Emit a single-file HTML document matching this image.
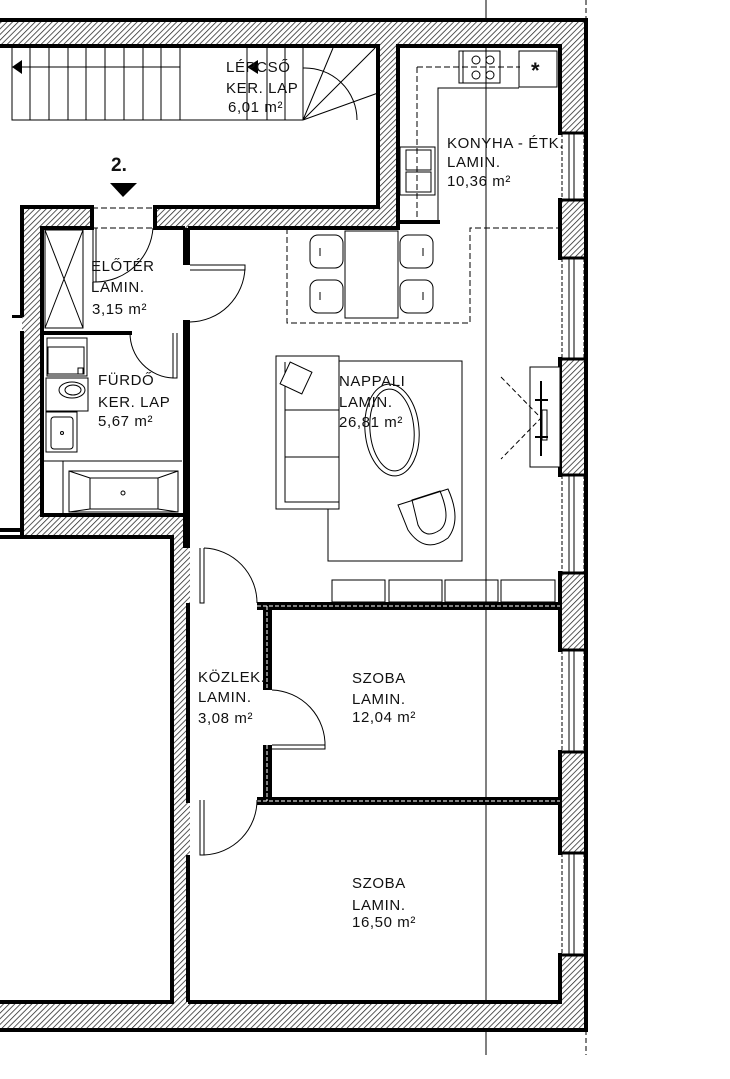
<!DOCTYPE html>
<html><head><meta charset="utf-8"><style>
html,body{margin:0;padding:0;background:#fff;}
svg{display:block;}
text{font-family:"Liberation Sans",sans-serif;font-size:15px;letter-spacing:0.6px;fill:#111;}
</style></head><body>
<svg width="730" height="1079" viewBox="0 0 730 1079" xmlns="http://www.w3.org/2000/svg">
<defs>
<pattern id="h" patternUnits="userSpaceOnUse" width="4" height="4" patternTransform="rotate(45)">
<rect width="4" height="4" fill="#fff"/>
<line x1="0" y1="0" x2="0" y2="4" stroke="#222" stroke-width="1.5"/>
</pattern>
</defs>
<rect width="730" height="1079" fill="#fff"/>

<line x1="486" y1="0" x2="486" y2="1055" stroke="#000" stroke-width="1"/>
<line x1="586" y1="0" x2="586" y2="20" stroke="#000" stroke-width="1" stroke-dasharray="5,3"/>
<line x1="586" y1="1030" x2="586" y2="1055" stroke="#000" stroke-width="1" stroke-dasharray="5,3"/>

<g fill="url(#h)">
<rect x="0" y="20" width="586" height="27"/>
<rect x="560" y="20" width="26" height="1010"/>
<rect x="0" y="1002" width="586" height="28"/>
<rect x="378" y="46" width="20" height="182"/>
<rect x="155" y="207" width="243" height="21"/>
<rect x="22" y="207" width="70" height="21"/>
<rect x="22" y="207" width="20" height="328"/>
<rect x="22" y="515" width="168" height="20"/>
<rect x="172" y="515" width="18" height="487"/>
</g>

<g>
<rect x="560" y="133" width="26" height="67" fill="#fff"/>
<rect x="560" y="258" width="26" height="101" fill="#fff"/>
<rect x="560" y="475" width="26" height="98" fill="#fff"/>
<rect x="560" y="650" width="26" height="102" fill="#fff"/>
<rect x="560" y="853" width="26" height="102" fill="#fff"/>
</g>
<g stroke="#000" stroke-width="1" fill="none">
<path d="M569 133V200M574 133V200M569 258V359M574 258V359M569 475V573M574 475V573M569 650V752M574 650V752M569 853V955M574 853V955"/>
<path d="M562 133V200M584 133V200M562 258V359M584 258V359M562 475V573M584 475V573M562 650V752M584 650V752M562 853V955M584 853V955" stroke-dasharray="4,2"/>
</g>

<g stroke="#000" stroke-width="4" fill="none" stroke-linecap="square">
<path d="M0 20H586V1030H0"/>
<path d="M0 46H378V207H155V228"/>
<path d="M155 228H183"/>
<path d="M190 228H398V46H560V133M560 200V258M560 359V475M560 573V650M560 752V853M560 955V1002H190"/>
<path d="M398 222H438"/>
<path d="M22 207H92V228"/>
<path d="M22 207V315M22 333V537"/>
<path d="M0 530H22"/>
<path d="M0 537H172V1002H0"/>
<path d="M42 228H92M42 228V515H183"/>
<path d="M42 333H130"/>
<path d="M586 133V200M586 258V359M586 475V573M586 650V752M586 853V955" stroke-width="3"/>
</g>
<path d="M560 133H586M560 200H586M560 258H586M560 359H586M560 475H586M560 573H586M560 650H586M560 752H586M560 853H586M560 955H586" stroke="#000" stroke-width="3"/>

<g fill="#000">
<rect x="183" y="228" width="7" height="37"/>
<rect x="183" y="320" width="7" height="228"/>
<rect x="186" y="603" width="4" height="200"/>
<rect x="186" y="855" width="4" height="147"/>
<rect x="257" y="602" width="303" height="8"/>
<rect x="263" y="602" width="9" height="88"/>
<rect x="263" y="745" width="9" height="60"/>
<rect x="257" y="797" width="303" height="8"/>
<rect x="12" y="315" width="10" height="3"/>
</g>
<path d="M257 606H560M267 606V690M267 745V801M257 801H560" stroke="#fff" stroke-width="1" stroke-dasharray="4,2"/>

<path d="M92 208H155M92 228H155" stroke="#000" stroke-width="1" stroke-dasharray="6,3"/>
<text x="111" y="171" style="font-size:19px;font-weight:bold;letter-spacing:0">2.</text>
<polygon points="110,183 137,183 123,197" fill="#000"/>
<path d="M93 228V282M96 228V282M93 282H96" stroke="#000" stroke-width="1" fill="none"/>
<path d="M96 282A58 58 0 0 0 153 228" stroke="#000" stroke-width="1" fill="none"/>

<g stroke="#000" stroke-width="1" fill="none">
<rect x="45" y="230" width="38" height="98"/>
<path d="M45 230L83 328M83 230L45 328"/>
</g>
<g stroke="#000" stroke-width="1" fill="none">
<path d="M190 265H245V270H190"/>
<path d="M245 268A56 56 0 0 1 190 322"/>
</g>
<g stroke="#000" stroke-width="1" fill="none">
<path d="M173 333V378H177V333"/>
<path d="M130 333A45 45 0 0 0 173 378"/>
</g>

<g stroke="#000" stroke-width="1" fill="none">
<rect x="47" y="338" width="40" height="38"/>
<rect x="48" y="347" width="36" height="27"/>
<rect x="78" y="368" width="5" height="6"/>
<rect x="46" y="378" width="42" height="33"/>
<ellipse cx="72" cy="390" rx="13" ry="8"/>
<ellipse cx="73" cy="390" rx="8" ry="5"/>
<rect x="46" y="412" width="31" height="40"/>
<rect x="51" y="417" width="22" height="32" rx="3"/>
<circle cx="62" cy="433" r="1.5"/>
<path d="M42 461H182M63 461V515"/>
<rect x="69" y="471" width="109" height="41"/>
<path d="M69 471L90 478H158L178 471M69 512L90 509H158L178 512M90 478V509M158 478V509"/>
<circle cx="123" cy="493" r="2"/>
</g>

<g stroke="#000" stroke-width="1" fill="none">
<path d="M12 48V120H303M12 67H180"/>
<path d="M30 48V120M49 48V120M68 48V120M86 48V120M105 48V120M124 48V120M143 48V120M161 48V120M180 48V120M247 48V120M267 48V120M285 48V120M303 48V120"/>
<path d="M303 68A52 52 0 0 1 357 120"/>
<path d="M303 120L333 48M303 120L375 48M303 120L378 93"/>
</g>
<polygon points="12,67 22,60 22,74" fill="#000"/>
<polygon points="247,67 258,60 258,74" fill="#000"/>

<g stroke="#000" stroke-width="1" fill="none">
<path d="M438 222V88H519"/>
<rect x="459" y="51" width="41" height="32"/>
<path d="M463 51V83"/>
<circle cx="476" cy="60" r="4"/><circle cx="490" cy="60" r="4"/>
<circle cx="476" cy="75" r="4"/><circle cx="490" cy="75" r="4"/>
<rect x="519" y="51" width="38" height="36"/>
<rect x="400" y="147" width="35" height="48"/>
<rect x="406" y="150" width="25" height="20"/>
<rect x="406" y="172" width="25" height="20"/>
<path d="M417 67V220M417 67H520" stroke-dasharray="6,3"/>
</g>
<text x="531" y="78" style="font-size:22px;font-weight:bold;letter-spacing:0">*</text>

<g stroke="#000" stroke-width="1" fill="none">
<path d="M287 228V323H470V228H560" stroke-dasharray="6,3"/>
<rect x="345" y="231" width="53" height="87" fill="#fff"/>
<rect x="310" y="235" width="33" height="33" rx="8"/>
<rect x="310" y="280" width="33" height="33" rx="8"/>
<rect x="400" y="235" width="33" height="33" rx="8"/>
<rect x="400" y="280" width="33" height="33" rx="8"/>
<path d="M320 248V256M320 292V300M423 248V256M423 292V300"/>
</g>

<g stroke="#000" stroke-width="1" fill="none">
<rect x="328" y="361" width="134" height="200" fill="#fff"/>
<rect x="276" y="356" width="63" height="153" fill="#fff"/>
<path d="M285 362V502H339M285 410H339M285 457H339"/>
<rect x="284" y="366" width="24" height="24" transform="rotate(25 296 378)" fill="#fff"/>
<ellipse cx="392" cy="430" rx="27" ry="46" transform="rotate(-5 392 430)"/>
<ellipse cx="392" cy="430" rx="22" ry="41" transform="rotate(-5 392 430)"/>
<path d="M398 505L448 489Q462 520 448 538Q425 555 408 530Z"/>
<path d="M412 500L440 491Q452 520 440 530Q425 540 418 525Z"/>
<rect x="332" y="580" width="53" height="22"/>
<rect x="389" y="580" width="53" height="22"/>
<rect x="445" y="580" width="53" height="22"/>
<rect x="501" y="580" width="54" height="22"/>
<rect x="530" y="367" width="30" height="100" fill="#fff"/>
<path d="M501 377L541 418L501 459" stroke-dasharray="5,3"/>
<rect x="542" y="410" width="5" height="30"/>
</g>
<path d="M541 381V456M535 400H548M535 437H548" stroke="#000" stroke-width="2"/>

<g stroke="#000" stroke-width="1" fill="none">
<path d="M200 548V603H204V548"/>
<path d="M204 548A55 55 0 0 1 257 603"/>
<path d="M200 800V855H204V800"/>
<path d="M257 800A55 55 0 0 1 204 855"/>
<path d="M272 745H325V749H272"/>
<path d="M325 747A55 55 0 0 0 272 690"/>
</g>

<text x="226" y="72">LÉPCSŐ</text>
<text x="226" y="93">KER. LAP</text>
<text x="228" y="112">6,01 m²</text>
<text x="447" y="148">KONYHA - ÉTK.</text>
<text x="447" y="167">LAMIN.</text>
<text x="447" y="186">10,36 m²</text>
<text x="91" y="271">ELŐTÉR</text>
<text x="91" y="292">LAMIN.</text>
<text x="92" y="314">3,15 m²</text>
<text x="98" y="385">FÜRDŐ</text>
<text x="98" y="407">KER. LAP</text>
<text x="98" y="426">5,67 m²</text>
<text x="339" y="386">NAPPALI</text>
<text x="339" y="407">LAMIN.</text>
<text x="339" y="427">26,81 m²</text>
<text x="198" y="682">KÖZLEK.</text>
<text x="198" y="702">LAMIN.</text>
<text x="198" y="723">3,08 m²</text>
<text x="352" y="683">SZOBA</text>
<text x="352" y="704">LAMIN.</text>
<text x="352" y="722">12,04 m²</text>
<text x="352" y="888">SZOBA</text>
<text x="352" y="910">LAMIN.</text>
<text x="352" y="927">16,50 m²</text>
</svg>
</body></html>
